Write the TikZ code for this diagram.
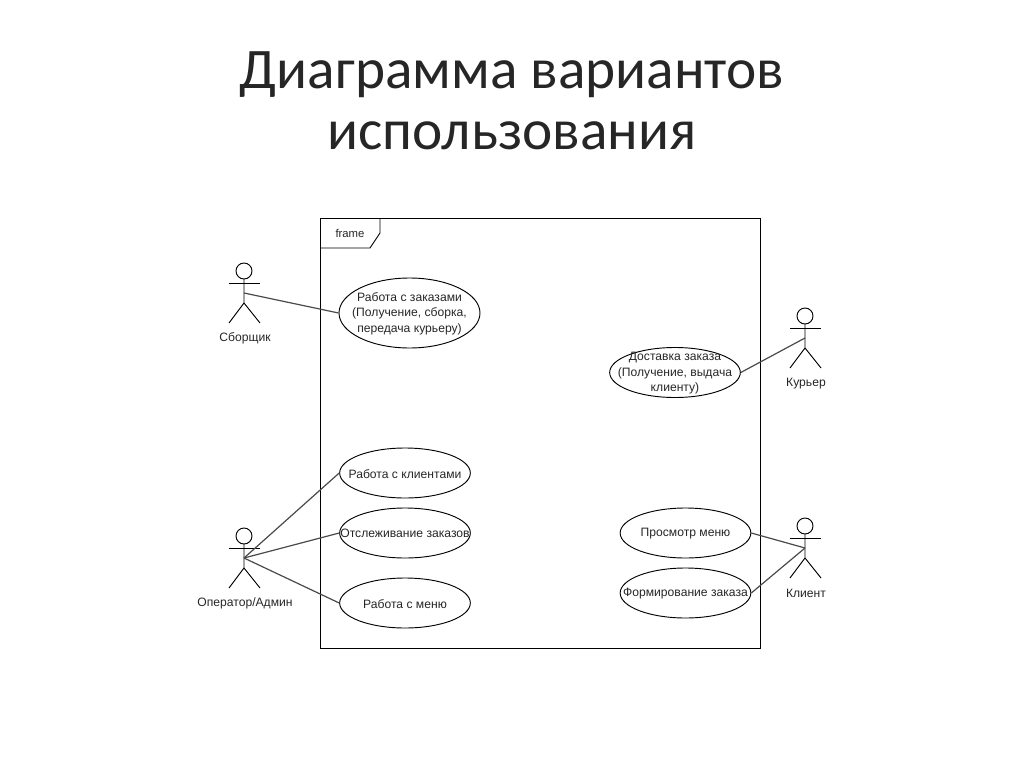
\documentclass[tikz,border=0pt]{standalone}
\usepackage{fontspec}
\setmainfont{Liberation Sans}
\newfontfamily\titlefont{Carlito}
\usetikzlibrary{shapes.geometric}
\definecolor{linegray}{HTML}{4A4A4A}
\definecolor{textgray}{HTML}{262626}
\tikzset{
    x=0.75pt, y=-0.75pt,
    usecase/.style={draw, ellipse, inner sep=0pt, minimum width=98pt, minimum height=37.5pt, line width=0.7pt},
    usetext/.style={font=\fontsize{9.1}{11.6}\selectfont, text=textgray, align=center, inner sep=0pt, yshift=-0.5pt},
    link/.style={draw=linegray, line width=0.9pt},
    actorname/.style={font=\fontsize{9.1}{11}\selectfont, text=textgray, inner sep=0pt},
    pics/actor/.style={
        code={
            \draw[line width=0.7pt] (0,-22) circle (8);
            \draw[line width=0.7pt] (-15,-10) -- (16,-10);
            \draw[line width=0.7pt] (0,-14) -- (0,10) (-15,30) -- (0,10) -- (16,30);
            \node[actorname] (-name) at (1,45.5) {#1};
        }
    },
}

\begin{document}
\begin{tikzpicture}
    \useasboundingbox (0,0) rectangle (1024,767);
    \node[font=\titlefont\fontsize{43}{46}\selectfont, text=textgray, align=center] (title) at (512,100.5) {Диаграмма вариантов\\использования};

    % frame
    \draw[line width=0.7pt] (320,218) rectangle (760,648);
    \draw[line width=0.7pt] (320,248) -- (370,248) -- (380,233) -- (380,218);
    \node[font=\fontsize{8.5}{10}\selectfont, text=textgray, inner sep=0pt] (frame) at (350,233) {frame};

    % use cases
    \node[usecase, minimum width=105.75pt, minimum height=52.5pt, label={[usetext]center:{Работа с заказами\\(Получение, сборка,\\передача курьеру)}}] (work orders) at (409.5,313) {};
    \node[usecase, label={[usetext]center:Работа с клиентами}] (work clients) at (405,473) {};
    \node[usecase, label={[usetext]center:Отслеживание заказов}] (tracking) at (405,533) {};
    \node[usecase, label={[usetext]center:Работа с меню}] (work menu) at (405,603) {};
    \node[usecase, label={[usetext]center:{Доставка заказа\\(Получение, выдача\\клиенту)}}] (delivery) at (675,372.5) {};
    \node[usecase, label={[usetext]center:Просмотр меню}] (view menu) at (685.5,533) {};
    \node[usecase, label={[usetext]center:Формирование заказа}] (make order) at (685.5,593) {};

    % actors
    \coordinate (picker) at (244,293);
    \coordinate (operator) at (244,558);
    \coordinate (courier) at (805,338);
    \coordinate (client) at (805,548);
    \pic at (picker) {actor=Сборщик};
    \pic at (operator) {actor=Оператор/Админ};
    \pic at (courier) {actor=Курьер};
    \pic at (client) {actor=Клиент};

    \draw[link] (picker) -- (work orders.west);
    \draw[link] (operator) -- (work clients.west);
    \draw[link] (operator) -- (tracking.west);
    \draw[link] (operator) -- (work menu.west);
    \draw[link] (courier) -- (delivery.east);
    \draw[link] (client) -- (view menu.east);
    \draw[link] (client) -- (make order.east);
\end{tikzpicture}
\end{document}
